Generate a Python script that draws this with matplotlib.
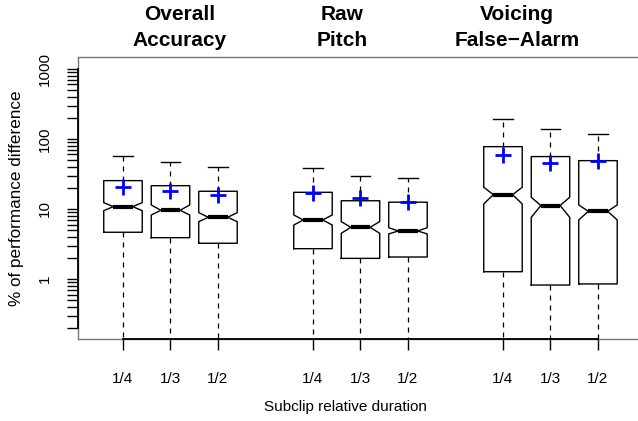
import matplotlib
matplotlib.use("Agg")
import matplotlib.pyplot as plt
import matplotlib.transforms as mtransforms
from matplotlib.ticker import FixedLocator, NullFormatter

plt.rcParams['font.family'] = ['Liberation Sans', 'DejaVu Sans']

# ---------------- data ----------------
metrics = ["Overall\nAccuracy", "Raw\nPitch", "Voicing\nFalse\u2212Alarm"]
durations = ["1/4", "1/3", "1/2"]
positions = [1, 2, 3, 5, 6, 7, 9, 10, 11]

whis_hi = [57, 47.4, 40.2, 38.1, 29.6, 28, 191, 137, 119]
q3 = [25.4, 21.5, 17.9, 17.3, 13.1, 12.5, 77.6, 56, 49]
medians = [10.8, 9.58, 7.6, 6.97, 5.47, 4.85, 16.0, 11.2, 9.27]
q1 = [4.65, 3.89, 3.24, 2.71, 1.97, 2.06, 1.27, 0.82, 0.85]
whis_lo = [0.01, 0.01, 0.01, 0.01, 0.01, 0.01, 0.01, 0.01, 0.01]
means = [20.8, 18.3, 15.8, 16.8, 14.2, 12.7, 59, 45, 48.5]
notch_lo = [9.46, 8.2, 6.6, 5.9, 4.49, 4.4, 11.8, 7.6, 6.97]
notch_hi = [12.3, 11.4, 8.87, 8.2, 6.6, 5.4, 20.4, 14.7, 11.4]

major_ticks = [1, 10, 100, 1000]
minor_ticks = [m * 10.0 ** e for e in (-1, 0, 1, 2) for m in range(2, 10)]

# ---------------- figure ----------------
W, H = 638, 421
fig = plt.figure(figsize=(W / 100, H / 100), dpi=100)
left, right, top, bottom = 78, 645, 57, 339
ax = fig.add_axes([left / W, 1 - bottom / H, (right - left) / W, (bottom - top) / H])

stats = []
for i in range(len(positions)):
    stats.append(dict(med=medians[i], q1=q1[i], q3=q3[i], whislo=whis_lo[i],
                      whishi=whis_hi[i], cilo=notch_lo[i], cihi=notch_hi[i],
                      mean=means[i], fliers=[]))

ax.bxp(stats, positions=positions, widths=0.81, shownotches=True, showmeans=True,
       showcaps=True, showfliers=False,
       boxprops=dict(color='black', linewidth=1.0),
       whiskerprops=dict(color='black', linewidth=0.9, linestyle=(0, (4, 4))),
       capprops=dict(color='black', linewidth=1.0),
       medianprops=dict(color='black', linewidth=3.0, solid_capstyle='butt'),
       meanprops=dict(marker='+', markeredgecolor='#0000ff', markersize=11,
                      markeredgewidth=2.0, linestyle='none'),
       manage_ticks=False)

ax.set_yscale('log')
ax.set_ylim(0.139, 1480)
ax.set_xlim(0.053, 11.99)

for s in ax.spines.values():
    s.set_color('#777777')
    s.set_linewidth(1.0)

# y axis
ax.yaxis.set_major_locator(FixedLocator(major_ticks))
ax.yaxis.set_minor_locator(FixedLocator(minor_ticks))
ax.yaxis.set_minor_formatter(NullFormatter())
ax.set_yticklabels([str(t) for t in major_ticks], rotation=90, va='center',
                   fontsize=11)
ax.tick_params(axis='y', which='both', length=8, width=1.0, color='black', pad=11)

# x axis
ax.set_xticks(positions)
ax.set_xticklabels(durations * 3, fontsize=11)
ax.tick_params(axis='x', length=8, width=1.0, color='black', pad=16)

# black axis lines from first to last tick (R style)
tr_y = mtransforms.blended_transform_factory(ax.transAxes, ax.transData)
ax.plot([0, 0], [min(minor_ticks), max(major_ticks)], color='black', lw=1.3,
        transform=tr_y, clip_on=False, zorder=5)
tr_x = mtransforms.blended_transform_factory(ax.transData, ax.transAxes)
ax.plot([positions[0], positions[-1]], [0, 0], color='black', lw=1.3,
        transform=tr_x, clip_on=False, zorder=5)

ax.set_ylabel("% of performance difference", fontsize=12.3)
ax.yaxis.set_label_coords(-(78 - 24) / (right - left), 0.5)
fig.text(345 / W, 1 - 407 / H, "Subclip relative duration", ha='center',
         va='center', fontsize=11)

# group titles
title_x = [2.2, 5.61, 9.29]
ttr = mtransforms.blended_transform_factory(ax.transData, fig.transFigure)
for tx, name in zip(title_x, metrics):
    l1, l2 = name.split("\n")
    ax.text(tx, 1 - 19.5 / H, l1, transform=ttr, ha='center', va='baseline',
            fontsize=15, fontweight='bold')
    ax.text(tx, 1 - 45.5 / H, l2, transform=ttr, ha='center', va='baseline',
            fontsize=15, fontweight='bold')

fig.savefig("out.png", dpi=100)
